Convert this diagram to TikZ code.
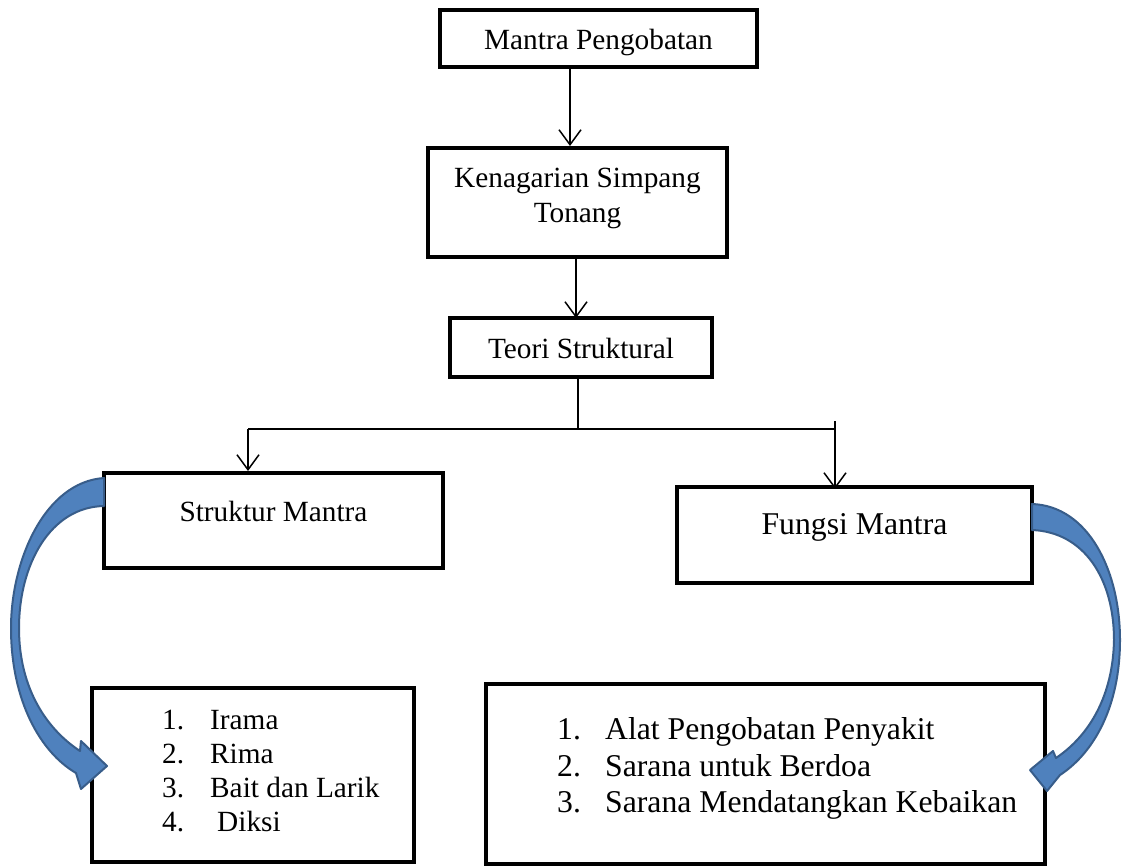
\documentclass[tikz,border=0pt]{standalone}
\usepackage{fontspec}
\setmainfont{Liberation Serif}
\usetikzlibrary{arrows.meta}
\definecolor{arrfill}{RGB}{79,129,189}
\definecolor{arrdraw}{RGB}{56,93,138}
\tikzset{
  box/.style={draw=black, line width=4pt, fill=white, inner sep=0pt},
  txt/.style={inner sep=0pt, font=\fontsize{29.3}{35}\selectfont},
  txtb/.style={inner sep=0pt, font=\fontsize{31.7}{38}\selectfont},
  conn/.style={draw=black, line width=1.5pt},
  arr/.style={conn, -{Straight Barb[length=15pt,width=22pt,line width=1.5pt]}},
  bigarrow/.style={fill=arrfill, draw=arrdraw, line width=2pt, line join=round}
}
\begin{document}
\begin{tikzpicture}[x=1pt,y=-1pt]
\useasboundingbox (0,0) rectangle (1122,867);
\fill[white] (0,0) rectangle (1122,867);

% boxes
\node[box, minimum width=317pt, minimum height=57pt] (mp) at (598.5,38.5) {};
\node[box, minimum width=299pt, minimum height=109pt] (kst) at (577.5,202.5) {};
\node[box, minimum width=262pt, minimum height=59pt] (ts) at (581,347.5) {};
\node[box, minimum width=339pt, minimum height=95pt] (sm) at (273.5,520.5) {};
\node[box, minimum width=355pt, minimum height=96pt] (fm) at (854.5,535) {};
\node[box, minimum width=322pt, minimum height=174pt] (ll) at (253,775) {};
\node[box, minimum width=559pt, minimum height=180pt] (rl) at (765.5,774) {};

% texts
\node[txt, anchor=base] (mpt) at (598.5,50) {Mantra Pengobatan};
\node[txt, anchor=base] (kst1) at (577.5,187) {Kenagarian Simpang};
\node[txt, anchor=base] (kst2) at (577.5,222) {Tonang};
\node[txt, anchor=base] (tst) at (581,358) {Teori Struktural};
\node[txt, anchor=base] (smt) at (273.5,521) {Struktur Mantra};
\node[txtb, anchor=base] (fmt) at (854.5,534) {Fungsi Mantra};

\node[txt, anchor=base west] (n1) at (162,729) {1.};
\node[txt, anchor=base west] (i1) at (210,729) {Irama};
\node[txt, anchor=base west] (n2) at (162,763) {2.};
\node[txt, anchor=base west] (i2) at (210,763) {Rima};
\node[txt, anchor=base west] (n3) at (162,797) {3.};
\node[txt, anchor=base west] (i3) at (210,797) {Bait dan Larik};
\node[txt, anchor=base west] (n4) at (162,831) {4.};
\node[txt, anchor=base west] (i4) at (217,831) {Diksi};

\node[txtb, anchor=base west] (r1) at (557,739) {1.};
\node[txtb, anchor=base west] (s1) at (605,739) {Alat Pengobatan Penyakit};
\node[txtb, anchor=base west] (r2) at (557,776) {2.};
\node[txtb, anchor=base west] (s2) at (605,776) {Sarana untuk Berdoa};
\node[txtb, anchor=base west] (r3) at (557,812) {3.};
\node[txtb, anchor=base west] (s3) at (605,812) {Sarana Mendatangkan Kebaikan};

% connectors
\draw[arr] (570,0 |- mp.south) -- (570,0 |- kst.north);
\draw[arr] (576,0 |- kst.south) -- ([yshift=-2pt]576,0 |- ts.north);
\coordinate (j) at (578,429);
\coordinate (jl) at (248,429);
\coordinate (jr) at (835,429);
\coordinate (jrt) at (835,421);
\draw[conn] (578,0 |- ts.south) -- (j);
\draw[conn] (jl) -- (jr);
\draw[arr] (jl) -- (jl |- sm.north);
\draw[arr] (jrt) -- ([yshift=-4pt]jr |- fm.north);

% curved block arrows
\draw[bigarrow] (104,478) .. controls (45,482) and (11,560) .. (11,628)
  .. controls (11,700) and (40,752) .. (76,773) -- (81,789) -- (107,766) -- (81,741)
  -- (80,751) .. controls (48,730) and (19,690) .. (19,628)
  .. controls (19,565) and (50,507) .. (104,506) -- cycle;
\draw[bigarrow] (1032,504) .. controls (1088,506) and (1120,570) .. (1120,640)
  .. controls (1120,705) and (1095,752) .. (1060,775) -- (1047,791) -- (1030,770)
  -- (1053,751) -- (1056,758) .. controls (1090,735) and (1113,695) .. (1114,640)
  .. controls (1114,580) and (1085,532) .. (1032,530) -- cycle;
\end{tikzpicture}
\end{document}
